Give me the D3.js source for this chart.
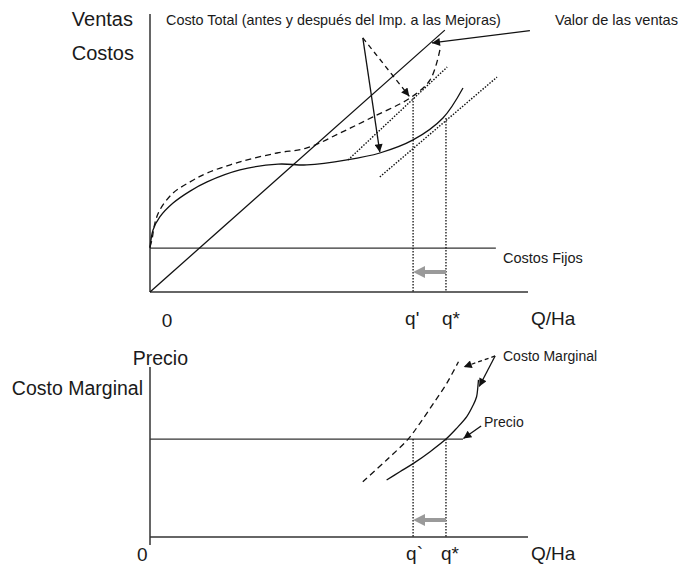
<!DOCTYPE html>
<html><head><meta charset="utf-8">
<script src="https://cdn.jsdelivr.net/npm/d3@7"></script>
<style>
body{margin:0;background:#fff}
text{font-family:"Liberation Sans",Arial,Helvetica,sans-serif;fill:#1a1a1a}
</style>
</head><body>
<svg id="chart" width="682" height="565"></svg>
<script>
// ---------- DATA (quantity Q on 0..100, value on 0..100) ----------
const qStar = 78.3;          // q*  (before the improvement tax)
const qPrime = 69.6;         // q'  (after the improvement tax)

// Top panel: sales value, fixed cost, total costs
const salesQ = [0, 78.0];
const salesV = [0, 94.2];
const fixedCostV = 15.8;
const fixedCostEndQ = 91.5;

const tcBeforeQ = [0, 0.8, 2.6, 6.1, 10.6, 15.1, 23.8, 33.9, 41.5, 52.1, 60.8, 69.6, 77.5, 82.8];
const tcBeforeV = [15.8, 22.3, 27.0, 32.0, 36.3, 39.6, 43.9, 46.0, 45.7, 47.5, 50.0, 54.7, 62.6, 73.4];

const tcAfterQ = [0, 0.5, 1.3, 2.6, 6.1, 10.6, 15.1, 23.8, 33.6, 41.5, 50.3, 59.0, 68.8, 74.1, 76.7];
const tcAfterV = [16.2, 18.7, 24.8, 29.5, 35.6, 39.6, 42.8, 46.8, 50.0, 51.8, 57.2, 63.0, 69.8, 76.3, 87.1];

const tangentBeforeQ = [60.8, 91.8];
const tangentBeforeV = [41.4, 77.3];
const tangentAfterQ = [52.4, 78.6];
const tangentAfterV = [47.5, 80.9];
const tcAtQStar = 62.6;
const tcAtQPrime = 69.8;
const shiftArrowTopV = 7.2;

// Bottom panel: price and marginal cost
const priceV = 57.6;
const priceEndQ = 82.8;
const mcBeforeQ = [62.6, 66.1, 69.7, 74.1, 78.3, 81.1, 83.8, 85.5, 86.4, 86.7, 86.9];
const mcBeforeV = [33.5, 38.4, 43.3, 50.2, 57.6, 63.9, 70.8, 77.6, 82.5, 87.5, 92.4];
const mcAfterQ = [56.3, 62.6, 68.3, 71.4, 75.0, 78.5, 81.6];
const mcAfterV = [32.5, 45.3, 57.6, 66.9, 78.6, 90.4, 103.1];
const shiftArrowBotV = 10.0;

// Tick / axis labels
const topYLabels = ["Ventas", "Costos"];
const botYLabels = ["Precio", "Costo Marginal"];
const topXLabels = ["0", "q'", "q*", "Q/Ha"];
const botXLabels = ["0", "q`", "q*", "Q/Ha"];
const notes = {
  tc: "Costo Total (antes y después del Imp. a las Mejoras)",
  sales: "Valor de las ventas",
  fixed: "Costos Fijos",
  mc: "Costo Marginal",
  price: "Precio"
};

// ---------- SCALES ----------
const x = d3.scaleLinear().domain([0, 100]).range([150, 528]);
const yT = d3.scaleLinear().domain([0, 100]).range([292, 14]);
const yB = d3.scaleLinear().domain([0, 100]).range([537, 367]);

const svg = d3.select("#chart");
const defs = svg.append("defs");
defs.append("marker").attr("id", "ah").attr("viewBox", "0 0 10 10")
  .attr("refX", 10).attr("refY", 5).attr("markerWidth", 10).attr("markerHeight", 8)
  .attr("markerUnits", "userSpaceOnUse").attr("orient", "auto")
  .append("path").attr("d", "M0,0L10,5L0,10Z").attr("fill", "#111");
defs.append("marker").attr("id", "gh").attr("viewBox", "0 0 10 10")
  .attr("refX", 5).attr("refY", 5).attr("markerWidth", 12).attr("markerHeight", 12)
  .attr("markerUnits", "userSpaceOnUse").attr("orient", "auto")
  .append("path").attr("d", "M0,0L10,5L0,10Z").attr("fill", "#9a9a9a");

const axisColor = "#333";
const ink = "#111";

function line(g, x1, y1, x2, y2, opts = {}) {
  return g.append("line").attr("x1", x1).attr("y1", y1).attr("x2", x2).attr("y2", y2)
    .attr("stroke", opts.stroke || ink).attr("stroke-width", opts.w || 1.3)
    .attr("stroke-dasharray", opts.dash || null)
    .attr("marker-end", opts.marker || null);
}
const curve = (sx, sy) => d3.line().x(d => sx(d[0])).y(d => sy(d[1])).curve(d3.curveCatmullRom.alpha(0.5));

// ---------- TOP PANEL ----------
const topG = svg.append("g");
line(topG, x(0), yT(0), x(0), yT(100), {stroke: axisColor, w: 1.5});
line(topG, x(0), yT(0), x(100), yT(0), {stroke: axisColor, w: 1.5});
line(topG, x(0), yT(fixedCostV), x(fixedCostEndQ), yT(fixedCostV), {stroke: axisColor, w: 1.3});
line(topG, x(salesQ[0]), yT(salesV[0]), x(salesQ[1]), yT(salesV[1]), {w: 1.3});
topG.append("path").datum(d3.zip(tcBeforeQ, tcBeforeV)).attr("d", curve(x, yT))
  .attr("fill", "none").attr("stroke", ink).attr("stroke-width", 1.3);
topG.append("path").datum(d3.zip(tcAfterQ, tcAfterV)).attr("d", curve(x, yT))
  .attr("fill", "none").attr("stroke", ink).attr("stroke-width", 1.3).attr("stroke-dasharray", "6,4");
line(topG, x(tangentBeforeQ[0]), yT(tangentBeforeV[0]), x(tangentBeforeQ[1]), yT(tangentBeforeV[1]), {w: 1.4, dash: "1.5,1.5"});
line(topG, x(tangentAfterQ[0]), yT(tangentAfterV[0]), x(tangentAfterQ[1]), yT(tangentAfterV[1]), {w: 1.4, dash: "1.5,1.5"});
line(topG, x(qPrime), yT(tcAtQPrime), x(qPrime), yT(0), {w: 1.3, dash: "1.5,1.5"});
line(topG, x(qStar), yT(tcAtQStar), x(qStar), yT(0), {w: 1.3, dash: "1.5,1.5"});
line(topG, x(qStar), yT(shiftArrowTopV), x(qPrime) + 6, yT(shiftArrowTopV), {stroke: "#9a9a9a", w: 4, marker: "url(#gh)"});
const apexT = [56.3, 91.4];
line(topG, x(apexT[0]), yT(apexT[1]), x(60.8), yT(50.3), {w: 1.3, marker: "url(#ah)"});
line(topG, x(apexT[0]), yT(apexT[1]), x(68.6), yT(70.4), {w: 1.3, dash: "5,4", marker: "url(#ah)"});
line(topG, x(100.5), yT(94.0), x(74.6), yT(89.6), {w: 1.3, marker: "url(#ah)"});

topG.append("text").attr("x", 133).attr("y", 26).attr("text-anchor", "end").attr("font-size", 20).text(topYLabels[0]);
topG.append("text").attr("x", 134).attr("y", 60).attr("text-anchor", "end").attr("font-size", 20).text(topYLabels[1]);
topG.append("text").attr("x", 166).attr("y", 25).attr("font-size", 14.4).text(notes.tc);
topG.append("text").attr("x", 555).attr("y", 25).attr("font-size", 14.6).text(notes.sales);
topG.append("text").attr("x", 503).attr("y", 263).attr("font-size", 14.5).text(notes.fixed);
topG.append("text").attr("x", x(4.5)).attr("y", 327).attr("text-anchor", "middle").attr("font-size", 19).text(topXLabels[0]);
topG.append("text").attr("x", x(qPrime) - 8).attr("y", 325).attr("font-size", 19).text(topXLabels[1]);
topG.append("text").attr("x", x(qStar) - 4).attr("y", 325).attr("font-size", 19).text(topXLabels[2]);
topG.append("text").attr("x", 531).attr("y", 325).attr("font-size", 19).text(topXLabels[3]);

// ---------- BOTTOM PANEL ----------
const botG = svg.append("g");
line(botG, x(0), 545, x(0), yB(100), {stroke: axisColor, w: 1.5});
line(botG, x(0), yB(0), x(100), yB(0), {stroke: axisColor, w: 1.5});
line(botG, x(0), yB(priceV), x(priceEndQ), yB(priceV), {stroke: axisColor, w: 1.3});
botG.append("path").datum(d3.zip(mcBeforeQ, mcBeforeV)).attr("d", curve(x, yB))
  .attr("fill", "none").attr("stroke", ink).attr("stroke-width", 1.3);
botG.append("path").datum(d3.zip(mcAfterQ, mcAfterV)).attr("d", curve(x, yB))
  .attr("fill", "none").attr("stroke", ink).attr("stroke-width", 1.3).attr("stroke-dasharray", "6,4");
line(botG, x(qPrime), yB(priceV), x(qPrime), yB(0), {w: 1.3, dash: "1.5,1.5"});
line(botG, x(qStar), yB(priceV), x(qStar), yB(0), {w: 1.3, dash: "1.5,1.5"});
line(botG, x(qStar), yB(shiftArrowBotV), x(qPrime) + 6, yB(shiftArrowBotV), {stroke: "#9a9a9a", w: 4, marker: "url(#gh)"});
const apexB = [91.3, 106.5];
line(botG, x(apexB[0]), yB(apexB[1]), x(83.0), yB(100.0), {w: 1.3, dash: "4,3", marker: "url(#ah)"});
line(botG, x(apexB[0]), yB(apexB[1]), x(87.1), yB(88.5), {w: 1.3, marker: "url(#ah)"});
line(botG, x(87.6), yB(65.3), x(82.9), yB(57.9), {w: 1.3, marker: "url(#ah)"});

botG.append("text").attr("x", 188).attr("y", 365).attr("text-anchor", "end").attr("font-size", 19.5).text(botYLabels[0]);
botG.append("text").attr("x", 143).attr("y", 395).attr("text-anchor", "end").attr("font-size", 19.5).text(botYLabels[1]);
botG.append("text").attr("x", 503).attr("y", 361).attr("font-size", 14).text(notes.mc);
botG.append("text").attr("x", 484).attr("y", 427).attr("font-size", 14).text(notes.price);
botG.append("text").attr("x", 137).attr("y", 561).attr("font-size", 19).text(botXLabels[0]);
botG.append("text").attr("x", x(qPrime) - 7).attr("y", 560).attr("font-size", 19).text(botXLabels[1]);
botG.append("text").attr("x", x(qStar) - 5).attr("y", 560).attr("font-size", 19).text(botXLabels[2]);
botG.append("text").attr("x", 531).attr("y", 560).attr("font-size", 19).text(botXLabels[3]);
</script>
</body></html>
